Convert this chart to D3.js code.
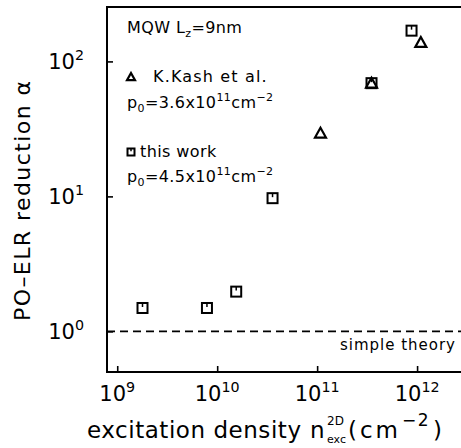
<!DOCTYPE html>
<html>
<head>
<meta charset="utf-8">
<script src="https://cdn.jsdelivr.net/npm/d3@7"></script>
<style>
  html, body { margin: 0; padding: 0; background: #fff; }
  svg { display: block; font-family: "DejaVu Sans", sans-serif; }
</style>
</head>
<body>
<svg id="chart" width="461" height="448"></svg>
<script>
// K.Kash et al. (triangles)
const kashDensity = [1.08e11, 3.5e11, 1.09e12];
const kashAlpha = [29.4, 69, 138];
// this work (squares)
const workDensity = [1.79e9, 7.9e9, 1.55e10, 3.58e10, 3.5e11, 8.8e11];
const workAlpha = [1.49, 1.49, 1.97, 9.7, 69, 169];
// simple theory
const theoryAlpha = 1;

const xTicks = [1e9, 1e10, 1e11, 1e12];
const xTickExp = ['9', '10', '11', '12'];
const yTicks = [1, 10, 100];
const yTickExp = ['0', '1', '2'];

const opts = {
  left: 107, right: 461, top: 7, bottom: 372,
};

const svg = d3.select('#chart');

const x = d3.scaleLog().domain([7.9e8, 2.75e12]).range([opts.left, opts.right]);
const y = d3.scaleLog().domain([0.5, 253]).range([opts.bottom, opts.top]);

// frame: top, left, bottom (right side open)
svg.append('path')
  .attr('d', `M${opts.right},${opts.top}H${opts.left}V${opts.bottom}H${opts.right}`)
  .attr('fill', 'none')
  .attr('stroke', '#000')
  .attr('stroke-width', 2);

// inward ticks
const xAxis = svg.append('g')
  .attr('transform', `translate(0,${opts.bottom})`)
  .call(d3.axisBottom(x).tickValues(xTicks).tickSize(-6).tickFormat(''));
const yAxis = svg.append('g')
  .attr('transform', `translate(${opts.left},0)`)
  .call(d3.axisLeft(y).tickValues(yTicks).tickSize(-6).tickFormat(''));
[xAxis, yAxis].forEach(g => {
  g.select('.domain').remove();
  g.selectAll('line').attr('stroke', '#000').attr('stroke-width', 1.6);
});

// tick labels with superscripts
function powerLabel(sel, exp, size) {
  sel.append('tspan').text('10');
  sel.append('tspan').attr('dy', -9).attr('font-size', size * 0.68).text(exp);
}
xTicks.forEach((t, i) => {
  const tx = svg.append('text')
    .attr('x', x(t))
    .attr('y', 401)
    .attr('text-anchor', 'middle')
    .attr('font-size', 21);
  powerLabel(tx, xTickExp[i], 21);
});
yTicks.forEach((t, i) => {
  const ty = svg.append('text')
    .attr('x', 84)
    .attr('y', y(t) + 8)
    .attr('text-anchor', 'end')
    .attr('font-size', 21);
  powerLabel(ty, yTickExp[i], 21);
});

// simple theory dashed line
svg.append('line')
  .attr('x1', opts.left).attr('x2', opts.right)
  .attr('y1', y(theoryAlpha)).attr('y2', y(theoryAlpha))
  .attr('stroke', '#000')
  .attr('stroke-width', 1.6)
  .attr('stroke-dasharray', '8,5');
svg.append('text')
  .attr('x', 340).attr('y', 350)
  .attr('font-size', 15)
  .attr('textLength', 115)
  .attr('lengthAdjust', 'spacing')
  .text('simple theory');

// markers
function square(g, s) {
  g.append('rect')
    .attr('x', -s / 2).attr('y', -s / 2)
    .attr('width', s).attr('height', s)
    .attr('fill', 'none').attr('stroke', '#000').attr('stroke-width', 2);
  g.append('line')
    .attr('x1', 0).attr('x2', 0)
    .attr('y1', -s / 2).attr('y2', -s / 2 + s * 0.4)
    .attr('stroke', '#000').attr('stroke-width', 1.5);
}
function triangle(g, s) {
  g.append('path')
    .attr('d', `M0,${-s * 0.5}L${s * 0.5},${s * 0.4}L${-s * 0.5},${s * 0.4}Z`)
    .attr('fill', 'none').attr('stroke', '#000').attr('stroke-width', 2.2);
}

svg.append('g').selectAll('g').data(d3.zip(workDensity, workAlpha)).enter()
  .append('g')
  .attr('transform', d => `translate(${x(d[0])},${y(d[1])})`)
  .each(function () { square(d3.select(this), 10); });

svg.append('g').selectAll('g').data(d3.zip(kashDensity, kashAlpha)).enter()
  .append('g')
  .attr('transform', d => `translate(${x(d[0])},${y(d[1])})`)
  .each(function () { triangle(d3.select(this), 11); });

// legend
const legend = svg.append('g').attr('font-size', 16).attr('letter-spacing', 0.4);
const t1 = legend.append('text').attr('x', 127).attr('y', 33);
t1.append('tspan').text('MQW L');
t1.append('tspan').attr('dy', 4).attr('font-size', 11).text('z');
t1.append('tspan').attr('dy', -4).text('=9nm');

triangle(legend.append('g').attr('transform', 'translate(131,77)'), 8);
legend.append('text').attr('x', 153).attr('y', 82)
  .attr('textLength', 114).attr('lengthAdjust', 'spacing')
  .text('K.Kash et al.');

function pLine(yy, val) {
  const t = legend.append('text').attr('x', 127).attr('y', yy);
  t.append('tspan').text('p');
  t.append('tspan').attr('dy', 4).attr('font-size', 11).text('0');
  t.append('tspan').attr('dy', -4).text(`=${val}x10`);
  t.append('tspan').attr('dy', -7).attr('font-size', 11).text('11');
  t.append('tspan').attr('dy', 7).text('cm');
  t.append('tspan').attr('dy', -7).attr('font-size', 11).text('\u22122');
}
pLine(108, '3.6');

square(legend.append('g').attr('transform', 'translate(131,152)'), 7);
legend.append('text').attr('x', 140).attr('y', 157).text('this work');
pLine(182, '4.5');

// x axis title, pieces placed separately
const xTitle = svg.append('g').attr('font-size', 23);
xTitle.append('text').attr('x', 87).attr('y', 438)
  .attr('textLength', 214).attr('lengthAdjust', 'spacing')
  .text('excitation density');
xTitle.append('text').attr('x', 310).attr('y', 438).text('n');
xTitle.append('text').attr('x', 327).attr('y', 425).attr('font-size', 12).text('2D');
xTitle.append('text').attr('x', 327).attr('y', 443).attr('font-size', 11).text('exc');
xTitle.append('text').attr('x', 348).attr('y', 438)
  .attr('letter-spacing', 3)
  .text('(cm');
xTitle.append('text').attr('x', 402).attr('y', 426).attr('font-size', 17)
  .attr('letter-spacing', 1.5).text('\u22122');
xTitle.append('text').attr('x', 433).attr('y', 438).text(')');

svg.append('text')
  .attr('transform', 'translate(30,201) rotate(-90)')
  .attr('text-anchor', 'middle')
  .attr('font-size', 22)
  .attr('textLength', 240)
  .attr('lengthAdjust', 'spacing')
  .text('PO\u2013ELR reduction \u03b1');
</script>
</body>
</html>
